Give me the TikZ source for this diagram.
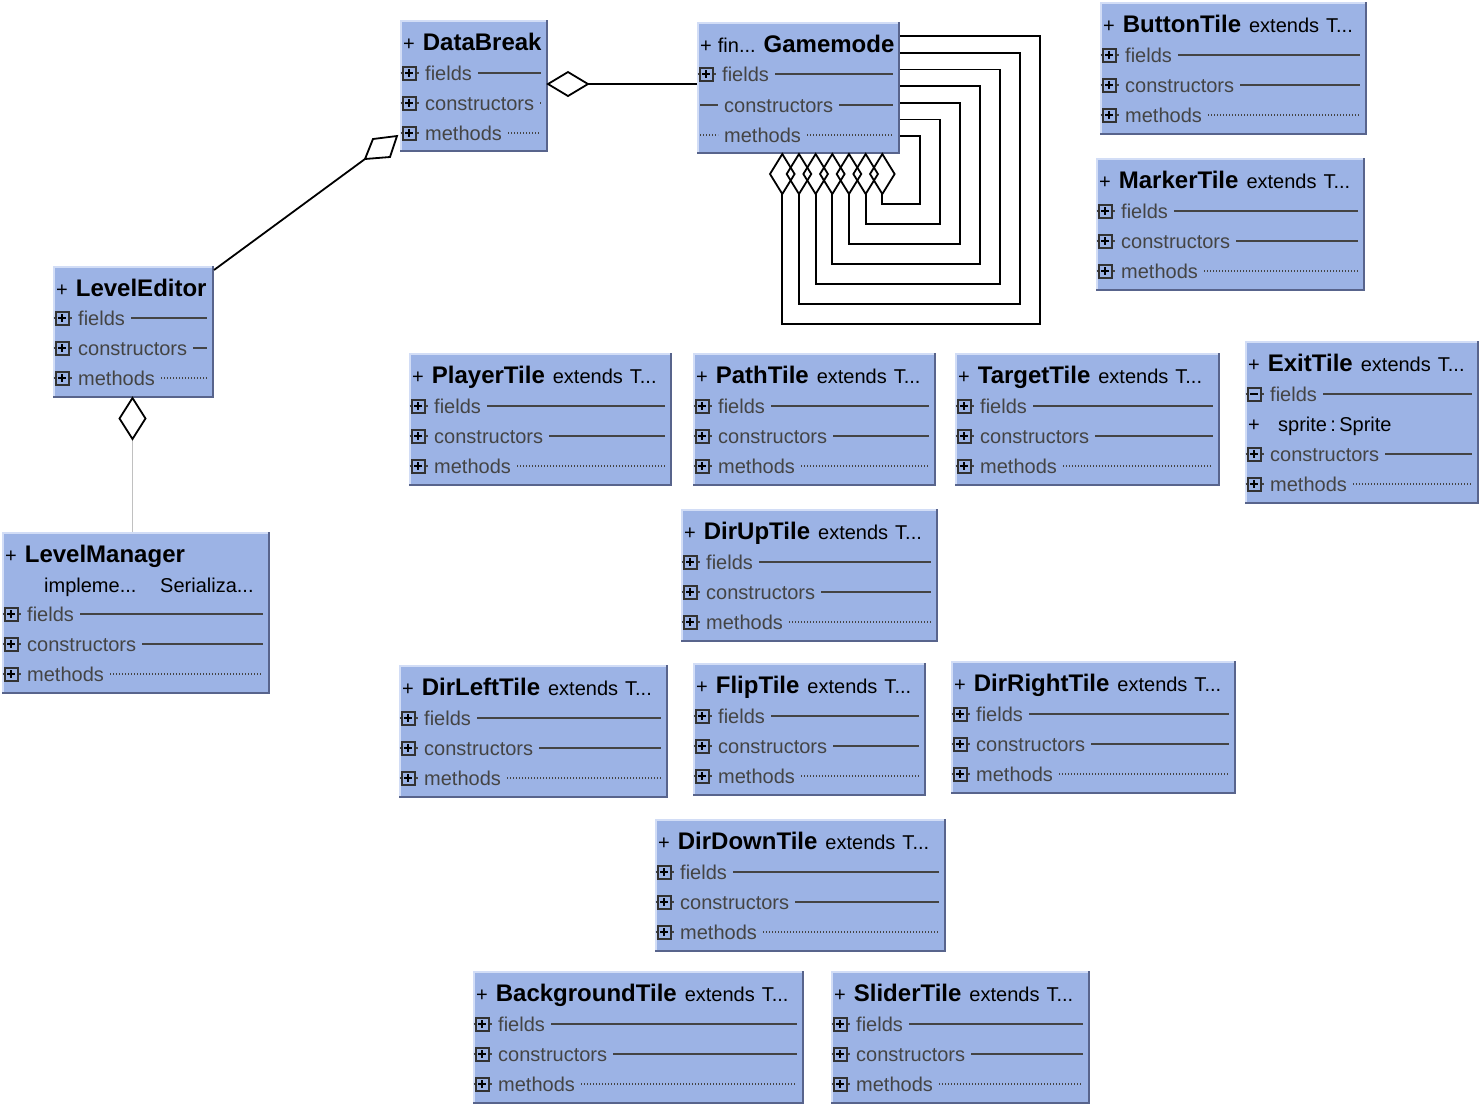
\documentclass[tikz,border=0pt]{standalone}
\usepackage{fontspec}
\setmainfont{Liberation Sans}
\usetikzlibrary{calc}
\definecolor{boxfill}{RGB}{156,179,229}
\definecolor{boxdark}{RGB}{88,100,140}
\definecolor{boxlight}{RGB}{210,221,246}
\definecolor{rowgray}{RGB}{68,68,68}
\definecolor{expgray}{RGB}{50,50,50}
\definecolor{assocgray}{RGB}{192,192,192}
\tikzset{
 boxnode/.style={fill=boxfill, draw=none, inner sep=0pt, outer sep=0pt, anchor=north west},
 lightedge/.style={draw=boxlight, line width=1.5pt},
 darkedge/.style={draw=boxdark, line width=2.5pt},
 rowtext/.style={anchor=west, inner sep=0pt, text height=14pt, text depth=0pt, text=rowgray, font=\fontsize{20}{24}\selectfont},
 blacktext/.style={anchor=west, inner sep=0pt, text height=14pt, text depth=0pt, text=black, font=\fontsize{20}{24}\selectfont},
 titletext/.style={anchor=base west, inner sep=0pt, text=black, font=\fontsize{20}{24}\selectfont},
 solidrow/.style={draw=rowgray, line width=1.8pt},
 dotrow/.style={draw=rowgray, line width=1.3pt, dash pattern=on 1.3pt off 1.7pt},
 expbox/.style={draw=expgray, line width=2pt},
 plusline/.style={draw=black, line width=2.2pt},
 stubline/.style={draw=rowgray, line width=1.2pt},
 conn/.style={draw=black, line width=1.8pt, line join=miter},
 aggr/.style={draw=black, line width=1.8pt, fill=white, line join=miter},
 assoc/.style={draw=assocgray, line width=1.8pt},
}
% box: name left top right bottom
\newcommand\ubox[5]{%
 \def\BL{#2}\def\BR{#4}%
 \node[boxnode, minimum width={(#4)-(#2)}, minimum height={(#5)-(#3)}] (#1) at (#2,#3) {};
 \draw[lightedge] (#2+0.75,#5) -- (#2+0.75,#3+0.75) -- (#4,#3+0.75);
 \draw[darkedge] (#2,#5-1.25) -- (#4-1.25,#5-1.25) -- (#4-1.25,#3);
}
% text and trailing line: y, label, style, text x offset
\newcommand\trow[4]{%
 \node[rowtext] (rt) at (\BL+#4,#1) {#2};
 \draw[#3] ([xshift=6pt]rt.east) -- (\BR-7,#1);
}
% expander square at y (vertical stroke of plus drawn separately)
\newcommand\expsq[1]{%
 \draw[stubline] (\BL+0.5,#1) -- (\BL+2.5,#1) (\BL+15.5,#1) -- (\BL+19,#1);
 \draw[expbox] (\BL+2.5,#1-6.5) rectangle (\BL+15.5,#1+6.5);
 \draw[plusline] (\BL+5,#1) -- (\BL+13,#1);
}
% expander (plus) row: y, label, style
\newcommand\erow[3]{%
 \expsq{#1}
 \draw[plusline] (\BL+9,#1-4) -- (\BL+9,#1+4);
 \trow{#1}{#2}{#3}{25}
}
% expander (minus) row
\newcommand\mrow[3]{%
 \expsq{#1}
 \trow{#1}{#2}{#3}{25}
}
% title line: y, name, rest
\newcommand\tline[3]{%
 \node[titletext] (ttl) at (\BL+3,#1+8.5) {+\hspace{8pt}{\bfseries\fontsize{24}{28}\selectfont #2}#3};
}
% standard tile: name left top right Label
\newcommand\tile[5]{%
 \ubox{#1}{#2}{#3}{#4}{#3+133}
 \tline{#3+22}{#5}{\hspace{8pt}extends\hspace{7pt}T...}
 \erow{#3+53}{fields}{solidrow}
 \erow{#3+83}{constructors}{solidrow}
 \erow{#3+113}{methods}{dotrow}
}
\begin{document}
\begin{tikzpicture}[x=1pt,y=-1pt]
\fill[white] (0,0) rectangle (1480,1104);
\useasboundingbox (0,0) rectangle (1480,1104);

% DataBreak
\ubox{db}{400}{20}{548}{152}
\tline{42}{DataBreak}{}
\erow{73}{fields}{solidrow}
\erow{103}{constructors}{solidrow}
\erow{133}{methods}{dotrow}

% Gamemode
\ubox{gm}{697}{22}{900}{154}
\node[titletext] (gmt) at (700,52.5) {+\hspace{6pt}fin...\hspace{8pt}{\bfseries\fontsize{24}{28}\selectfont Gamemode}};
\erow{74}{fields}{solidrow}
\draw[solidrow] (700,105) -- (718,105);
\trow{105}{constructors}{solidrow}{27}
\draw[dotrow] (700,135) -- (718,135);
\trow{135}{methods}{dotrow}{27}

% LevelEditor
\ubox{le}{53}{266}{214}{398}
\tline{288}{LevelEditor}{}
\erow{318}{fields}{solidrow}
\erow{348}{constructors}{solidrow}
\erow{378}{methods}{dotrow}

% LevelManager
\ubox{lm}{2}{532}{270}{694}
\tline{554}{LevelManager}{}
\node[blacktext] (lmi) at (44,585) {impleme...};
\node[blacktext] (lms) at (160,585) {Serializa...};
\erow{614}{fields}{solidrow}
\erow{644}{constructors}{solidrow}
\erow{674}{methods}{dotrow}

% ExitTile
\ubox{et}{1245}{341}{1479}{504}
\tline{363}{ExitTile}{\hspace{8pt}extends\hspace{7pt}T...}
\mrow{394}{fields}{solidrow}
\node[blacktext] (etp) at (1248,424) {+};
\node[blacktext] (ets) at (1278,424) {sprite\,:\,Sprite};
\erow{454}{constructors}{solidrow}
\erow{484}{methods}{dotrow}

% standard tiles
\tile{bt}{1100}{2}{1367}{ButtonTile}
\tile{mt}{1096}{158}{1365}{MarkerTile}
\tile{plt}{409}{353}{672}{PlayerTile}
\tile{pat}{693}{353}{936}{PathTile}
\tile{tgt}{955}{353}{1220}{TargetTile}
\tile{dut}{681}{509}{938}{DirUpTile}
\tile{dlt}{399}{665}{668}{DirLeftTile}
\tile{flt}{693}{663}{926}{FlipTile}
\tile{drt}{951}{661}{1236}{DirRightTile}
\tile{ddt}{655}{819}{946}{DirDownTile}
\tile{bgt}{473}{971}{804}{BackgroundTile}
\tile{slt}{831}{971}{1090}{SliderTile}

% DataBreak <>-- Gamemode
\coordinate (dA) at (db.east |- 0,84);
\draw[conn] ([xshift=40pt]dA) -- (gm.west |- dA);
\draw[aggr] (dA) -- ++(20,-12) -- ++(20,12) -- ++(-20,12) -- cycle;

% DataBreak <>-- LevelEditor
\coordinate (pTip) at ([xshift=-3pt]db.west |- 0,136);
\coordinate (pEnd) at ($(pTip)+(-32,23)$);
\draw[conn] ([yshift=-4pt]le.north east) -- (pEnd);
\draw[aggr] (pEnd) -- ++(8,-20) -- (pTip) -- ++(-7,21) -- cycle;

% LevelEditor <>-- LevelManager
\coordinate (leB) at ([xshift=-1pt]le.south);
\draw[assoc] ($(leB)+(0,41)$) -- (leB |- lm.north);
\draw[aggr] (leB) -- ++(13,20.5) -- ++(-13,20.5) -- ++(-13,-20.5) -- cycle;

% Gamemode self aggregations
\foreach \i in {0,...,6} {
 \pgfmathsetmacro\yy{36+16.7*\i}
 \pgfmathsetmacro\xx{1040-20*\i}
 \pgfmathsetmacro\bb{324-20*\i}
 \pgfmathsetmacro\cc{782.3+16.67*\i}
 \draw[conn] (gm.east |- 0,\yy) -- (\xx,\yy) -- (\xx,\bb) -- (\cc,\bb) -- (\cc,194);
 \draw[conn] (\cc,194) -- ++(-12.3,-20) -- ++(12.3,-20) -- ++(12.3,20) -- cycle;
}
\end{tikzpicture}
\end{document}
